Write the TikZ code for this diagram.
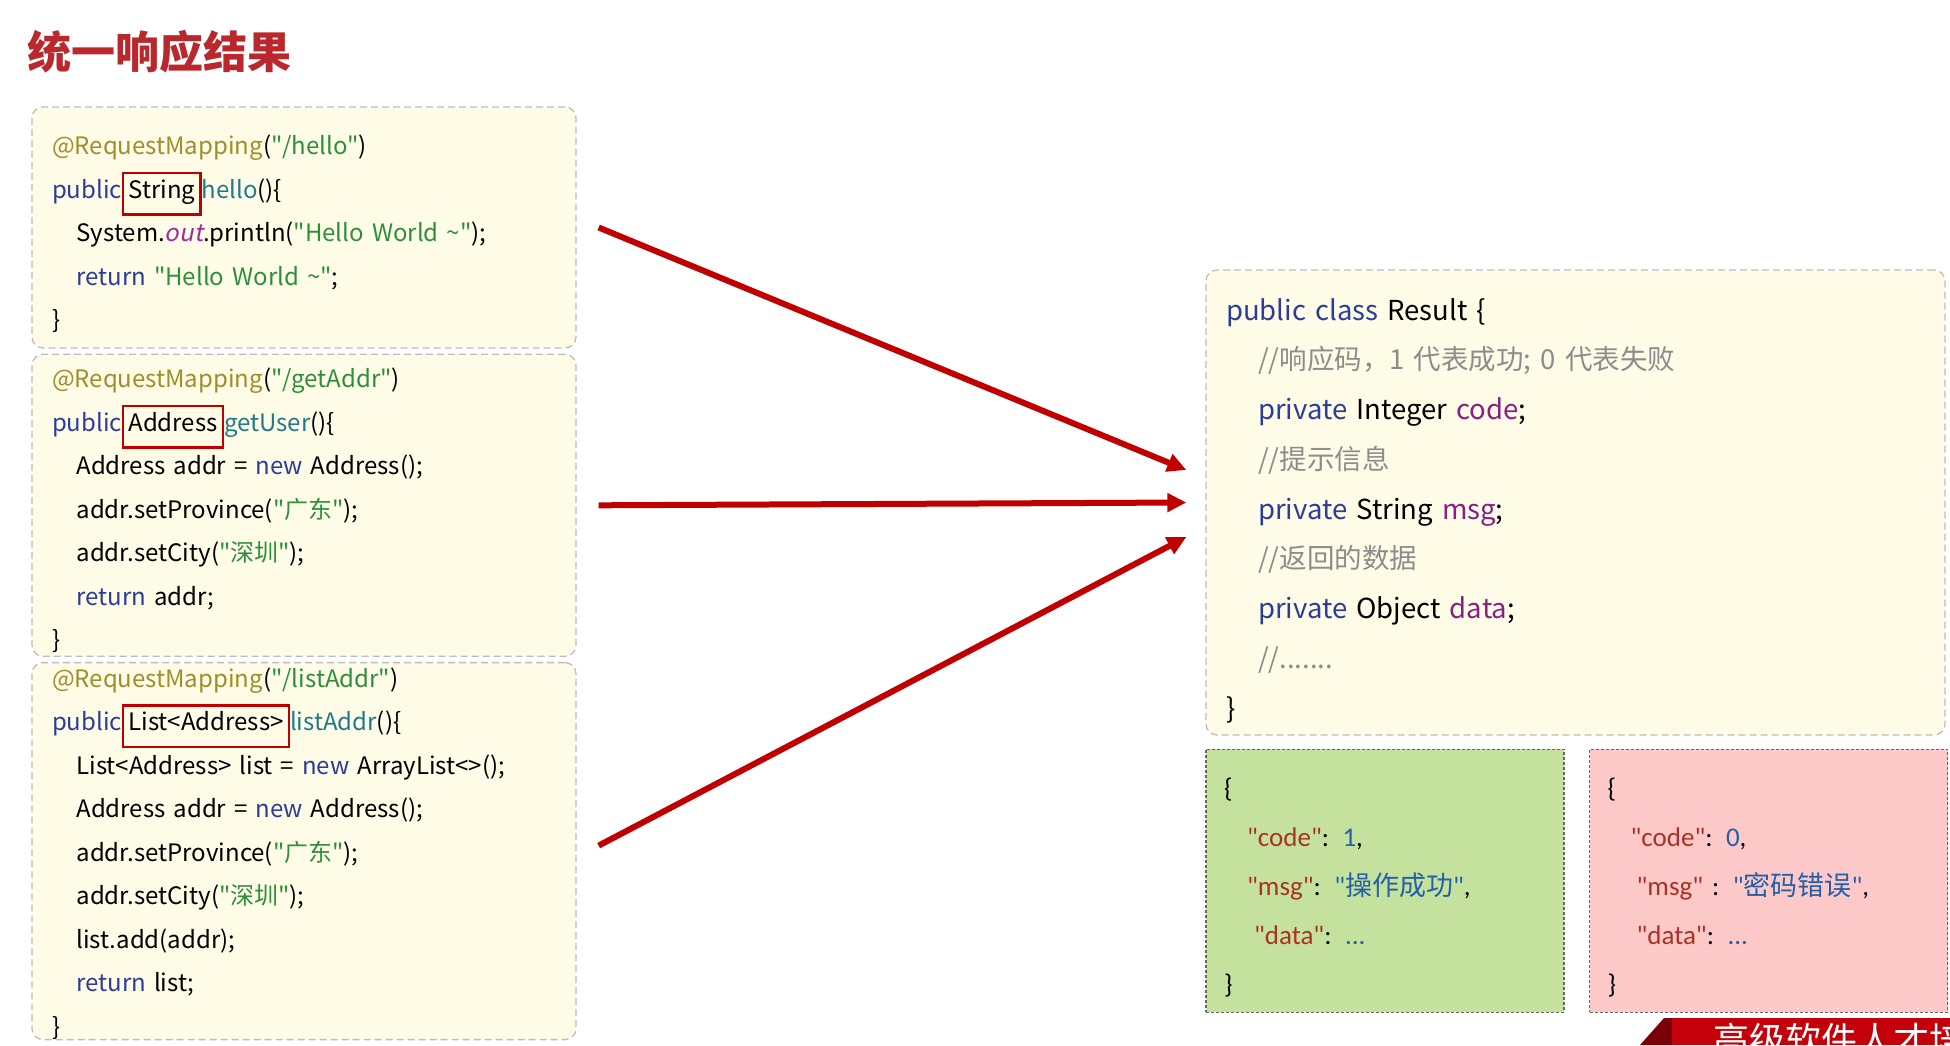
\documentclass[tikz,border=0pt]{standalone}
\usepackage{fontspec}
\newfontfamily\cnfont{Noto Sans CJK SC}
\newfontfamily\jsonfont{Carlito}
\newfontfamily\slantfont[FakeSlant=0.2]{Noto Sans CJK SC}
\usepackage{xcolor}
\usetikzlibrary{arrows.meta,positioning}

\definecolor{titlered}{HTML}{B8282D}
\definecolor{codebg}{HTML}{FEFCE6}
\definecolor{boxgray}{HTML}{BDBDBD}
\definecolor{kwdblue}{HTML}{2B3C9B}
\definecolor{annoolive}{HTML}{A08D2C}
\definecolor{strgreen}{HTML}{2E8F3B}
\definecolor{mthteal}{HTML}{1F7A8C}
\definecolor{fldpurple}{HTML}{871F87}
\definecolor{outpurple}{HTML}{9A2E9E}
\definecolor{cmtgray}{HTML}{8C8C8C}
\definecolor{retred}{HTML}{C00000}
\definecolor{okgreen}{HTML}{C4E19E}
\definecolor{errpink}{HTML}{FCC8C8}
\definecolor{jsonline}{HTML}{666666}
\definecolor{jkeyred}{HTML}{A93226}
\definecolor{jvalblue}{HTML}{2460A7}
\definecolor{bannerred}{HTML}{C4000A}
\definecolor{bannerdark}{HTML}{7A0008}

\newcommand{\kwd}[1]{\textcolor{kwdblue}{#1}}
\newcommand{\anno}[1]{\textcolor{annoolive}{#1}}
\newcommand{\strg}[1]{\textcolor{strgreen}{#1}}
\newcommand{\mth}[1]{\textcolor{mthteal}{#1}}
\newcommand{\cfld}[1]{\textcolor{fldpurple}{#1}}
\newcommand{\cmnt}[1]{\textcolor{cmtgray}{#1}}
\newcommand{\jkey}[1]{\textcolor{jkeyred}{#1}}
\newcommand{\jval}[1]{\textcolor{jvalblue}{#1}}
\newcommand{\retbox}[1]{{\setlength{\fboxsep}{4pt}\setlength{\fboxrule}{2.5pt}%
  \fcolorbox{retred}{codebg}{\rule[-11pt]{0pt}{31pt}#1}}}
\newcommand{\codeind}{\hspace*{24.5pt}}
\newcommand{\resind}{\hspace*{32pt}}
\newcommand{\jind}{\hspace*{23pt}}

\begin{document}
\begin{tikzpicture}[x=1pt,y=-1pt,
    heading/.style={anchor=west, inner sep=0pt, text=titlered,
      font=\cnfont\fontsize{44}{44}\selectfont\bfseries},
    codebox/.style={draw=boxgray, fill=codebg, line width=1.3pt,
      dash pattern=on 7pt off 4pt, rounded corners=11pt, align=left,
      text width=504pt, inner xsep=20pt, inner ysep=0pt,
      font=\cnfont\fontsize{24}{43.5}\selectfont},
    resbox/.style={codebox, text width=699pt,
      font=\cnfont\fontsize{27.5}{49.75}\selectfont},
    jsonbox/.style={draw=jsonline, line width=1.5pt, dash pattern=on 3pt off 2pt,
      align=left, text width=322pt, inner xsep=18pt, inner ysep=0pt,
      minimum height=263pt, font=\jsonfont\fontsize{27}{49}\selectfont},
    flow/.style={draw=retred, line width=6pt, -{Triangle[length=19pt,width=18pt]}}
  ]
  \useasboundingbox (0,0) rectangle (1950,1045);

  \node[heading] (title) at (27,52) {统一响应结果};

  % controller methods
  \node[codebox, minimum height=241pt] (hello) at (304,227.5) {%
    \rule{0pt}{33pt}\anno{@RequestMapping}(\strg{"/hello"})\\
    \kwd{public}\retbox{String}\mth{hello}()\{\\
    \codeind System.\textcolor{outpurple}{\slantfont out}.println(\strg{"Hello World \textasciitilde"});\\
    \codeind\kwd{return} \strg{"Hello World \textasciitilde"};\\
    \}};
  \node[codebox, minimum height=302pt, below=5pt of hello] (getaddr) {%
    \rule{0pt}{30pt}\anno{@RequestMapping}(\strg{"/getAddr"})\\
    \kwd{public}\retbox{Address}\mth{getUser}()\{\\
    \codeind Address addr = \kwd{new} Address();\\
    \codeind addr.setProvince(\strg{"广东"});\\
    \codeind addr.setCity(\strg{"深圳"});\\
    \codeind\kwd{return} addr;\\
    \}};
  \node[codebox, minimum height=377pt, below=5pt of getaddr] (listaddr) {%
    \rule{0pt}{24pt}\anno{@RequestMapping}(\strg{"/listAddr"})\\
    \kwd{public}\retbox{List<Address>}\mth{listAddr}()\{\\
    \codeind List<Address> list = \kwd{new} ArrayList<>();\\
    \codeind Address addr = \kwd{new} Address();\\
    \codeind addr.setProvince(\strg{"广东"});\\
    \codeind addr.setCity(\strg{"深圳"});\\
    \codeind list.add(addr);\\
    \codeind\kwd{return} list;\\
    \}};

  % unified result class
  \node[resbox, minimum height=465pt] (result) at (1575.5,502.5) {%
    \rule{0pt}{38pt}\kwd{public class} Result \{\\
    \resind\cmnt{//响应码，1 代表成功; 0 代表失败}\\
    \resind\kwd{private} Integer \cfld{code};\\
    \resind\cmnt{//提示信息}\\
    \resind\kwd{private} String \cfld{msg};\\
    \resind\cmnt{//返回的数据}\\
    \resind\kwd{private} Object \cfld{data};\\
    \resind\cmnt{//.......}\\
    \}};

  \node[jsonbox, fill=okgreen, below=13pt of result.south west, anchor=north west] (okjson) {%
    \rule{0pt}{32pt}\{\\
    \jind\jkey{"code"}: \jval{1},\\
    \jind\jkey{"msg"}: \jval{"{\cnfont 操作成功}"},\\
    \jind\hspace*{7pt}\jkey{"data"}: \jval{...}\\
    \}};
  \node[jsonbox, fill=errpink, right=24pt of okjson] (errjson) {%
    \rule{0pt}{32pt}\{\\
    \jind\jkey{"code"}: \jval{0},\\
    \jind\hspace*{6pt}\jkey{"msg"} : \jval{"{\cnfont 密码错误}"},\\
    \jind\hspace*{6pt}\jkey{"data"}: \jval{...}\\
    \}};

  \draw[flow] ([xshift=22pt]hello.east) -- ([xshift=-19pt,yshift=32.5pt]result.west);
  \draw[flow] ([xshift=22pt]getaddr.east) -- ([xshift=-19pt]result.west);
  \draw[flow] ([xshift=22pt,yshift=5.5pt]listaddr.east) -- ([xshift=-19pt,yshift=-34.5pt]result.west);

  % banner in the corner
  \fill[bannerdark] (1640,1045) -- (1664,1018) -- (1672,1018) -- (1672,1045) -- cycle;
  \fill[bannerred] (1672,1018) rectangle (1950,1045);
  \begin{scope}
    \clip (1672,1018) rectangle (1950,1045);
    \node[anchor=base west, inner sep=0pt, text=white, font=\cnfont\fontsize{36}{36}\selectfont]
      (brand) at (1713,1053) {高级软件人才培};
  \end{scope}
\end{tikzpicture}
\end{document}
